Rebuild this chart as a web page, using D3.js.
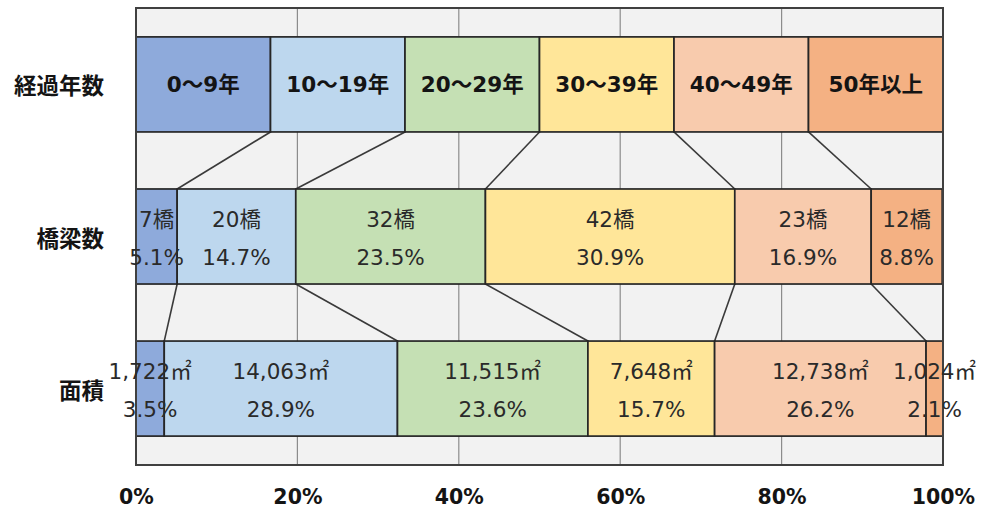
<!DOCTYPE html>
<html><head><meta charset="utf-8">
<script src="https://cdn.jsdelivr.net/npm/d3@7"></script>
<style>
html,body{margin:0;padding:0;background:#fff;}
svg{display:block;font-family:"DejaVu Sans","Noto Sans CJK JP",sans-serif;}
</style></head>
<body>
<svg id="chart" width="982" height="509"></svg>
<script>
// Rows of the 100% stacked comparison
const rowLabels = ["経過年数", "橋梁数", "面積"];
// Age classes (elapsed years since construction)
const ageClasses = ["0～9年", "10～19年", "20～29年", "30～39年", "40～49年", "50年以上"];
const ageShares = [100 / 6, 100 / 6, 100 / 6, 100 / 6, 100 / 6, 100 / 6];
// Number of bridges per class and their share (%)
const bridgeCounts = [7, 20, 32, 42, 23, 12];
const bridgeShares = [5.1, 14.7, 23.5, 30.9, 16.9, 8.8];
// Deck area per class (㎡) and its share (%)
const areaValues = [1722, 14063, 11515, 7648, 12738, 1024];
const areaShares = [3.5, 28.9, 23.6, 15.7, 26.2, 2.1];
// Axis ticks
const tickValues = [0, 20, 40, 60, 80, 100];
const classColors = ["#8eaadb", "#bdd7ee", "#c5e0b4", "#ffe699", "#f8cbad", "#f4b183"];

const FONT = "\"DejaVu Sans\",\"Noto Sans CJK JP\",sans-serif";
const CJK = "\"Noto Sans CJK JP\",sans-serif";

const svg = d3.select("#chart");
const margin = {left: 136, right: 39, top: 8, bottom: 44};
const W = 982, H = 509;
const x = d3.scaleLinear().domain([0, 100]).range([margin.left, W - margin.right]);
const y = d3.scaleBand().domain(rowLabels).range([margin.top, H - margin.bottom])
  .paddingInner(0.375).paddingOuter(0.19);

// plot background
svg.append("rect").attr("x", x(0)).attr("y", margin.top)
  .attr("width", x(100) - x(0)).attr("height", H - margin.bottom - margin.top)
  .attr("fill", "#f2f2f2");

// vertical gridlines
svg.append("g").selectAll("line").data(tickValues.slice(1, -1)).join("line")
  .attr("x1", d => x(d)).attr("x2", d => x(d))
  .attr("y1", margin.top).attr("y2", H - margin.bottom)
  .attr("stroke", "#8c8c8c").attr("stroke-width", 1.2);

// cumulative segments
function segments(shares) {
  let acc = 0;
  return shares.map((s, i) => { const d = {i, x0: acc, x1: acc + s}; acc += s; return d; });
}
const rowsData = [
  {row: rowLabels[0], segs: segments(ageShares)},
  {row: rowLabels[1], segs: segments(bridgeShares)},
  {row: rowLabels[2], segs: segments(areaShares)}
];

// connector lines between segment boundaries of adjacent rows
const conn = svg.append("g");
for (let r = 0; r < rowsData.length - 1; r++) {
  const a = rowsData[r], b = rowsData[r + 1];
  for (let k = 0; k < a.segs.length - 1; k++) {
    conn.append("line")
      .attr("x1", x(a.segs[k].x1)).attr("y1", y(a.row) + y.bandwidth())
      .attr("x2", x(b.segs[k].x1)).attr("y2", y(b.row))
      .attr("stroke", "#3a3a3a").attr("stroke-width", 1.6);
  }
}

// bars
rowsData.forEach(rd => {
  svg.append("g").selectAll("rect").data(rd.segs).join("rect")
    .attr("x", d => x(d.x0)).attr("y", y(rd.row))
    .attr("width", d => x(d.x1) - x(d.x0)).attr("height", y.bandwidth())
    .attr("fill", d => classColors[d.i])
    .attr("stroke", "#262626").attr("stroke-width", 1.7);
});

// plot frame
svg.append("rect").attr("x", x(0)).attr("y", margin.top)
  .attr("width", x(100) - x(0)).attr("height", H - margin.bottom - margin.top)
  .attr("fill", "none").attr("stroke", "#404040").attr("stroke-width", 2);

// age class labels
const r0 = rowsData[0];
svg.append("g").selectAll("text").data(r0.segs).join("text")
  .attr("x", d => x((d.x0 + d.x1) / 2)).attr("y", y(r0.row) + y.bandwidth() / 2)
  .attr("text-anchor", "middle").attr("dominant-baseline", "central")
  .attr("font-size", 21.5).attr("font-weight", "bold").attr("fill", "#141414")
  .text(d => ageClasses[d.i]);

// two-line value labels
function valueLabels(rd, top, bottom) {
  const g = svg.append("g").attr("font-size", 21.5).attr("fill", "#2a2a2a").attr("text-anchor", "middle");
  const cy = y(rd.row) + y.bandwidth() / 2;
  g.selectAll("text.t").data(rd.segs).join("text").attr("class", "t")
    .attr("x", d => x((d.x0 + d.x1) / 2)).attr("y", cy - 17)
    .attr("dominant-baseline", "central").text(d => top(d.i));
  g.selectAll("text.b").data(rd.segs).join("text").attr("class", "b")
    .attr("x", d => x((d.x0 + d.x1) / 2)).attr("y", cy + 21)
    .attr("dominant-baseline", "central").text(d => bottom(d.i));
}
valueLabels(rowsData[1], i => bridgeCounts[i] + "橋", i => bridgeShares[i].toFixed(1) + "%");
valueLabels(rowsData[2], i => d3.format(",")(areaValues[i]) + "㎡", i => areaShares[i].toFixed(1) + "%");

// row labels
svg.append("g").selectAll("text").data(rowLabels).join("text")
  .attr("x", 104).attr("y", d => y(d) + y.bandwidth() / 2)
  .attr("text-anchor", "end").attr("dominant-baseline", "central")
  .attr("font-family", CJK)
  .attr("font-size", 22.5).attr("font-weight", "bold").attr("fill", "#141414")
  .text(d => d);

// x axis
const axis = svg.append("g").attr("transform", `translate(0,${H - margin.bottom})`)
  .call(d3.axisBottom(x).tickValues(tickValues).tickFormat(d => d + "%").tickSize(0).tickPadding(24));
axis.select(".domain").remove();
axis.selectAll("text").attr("font-size", 20.5).attr("font-weight", "bold").attr("fill", "#141414")
  .attr("font-family", FONT);
</script>
</body></html>
